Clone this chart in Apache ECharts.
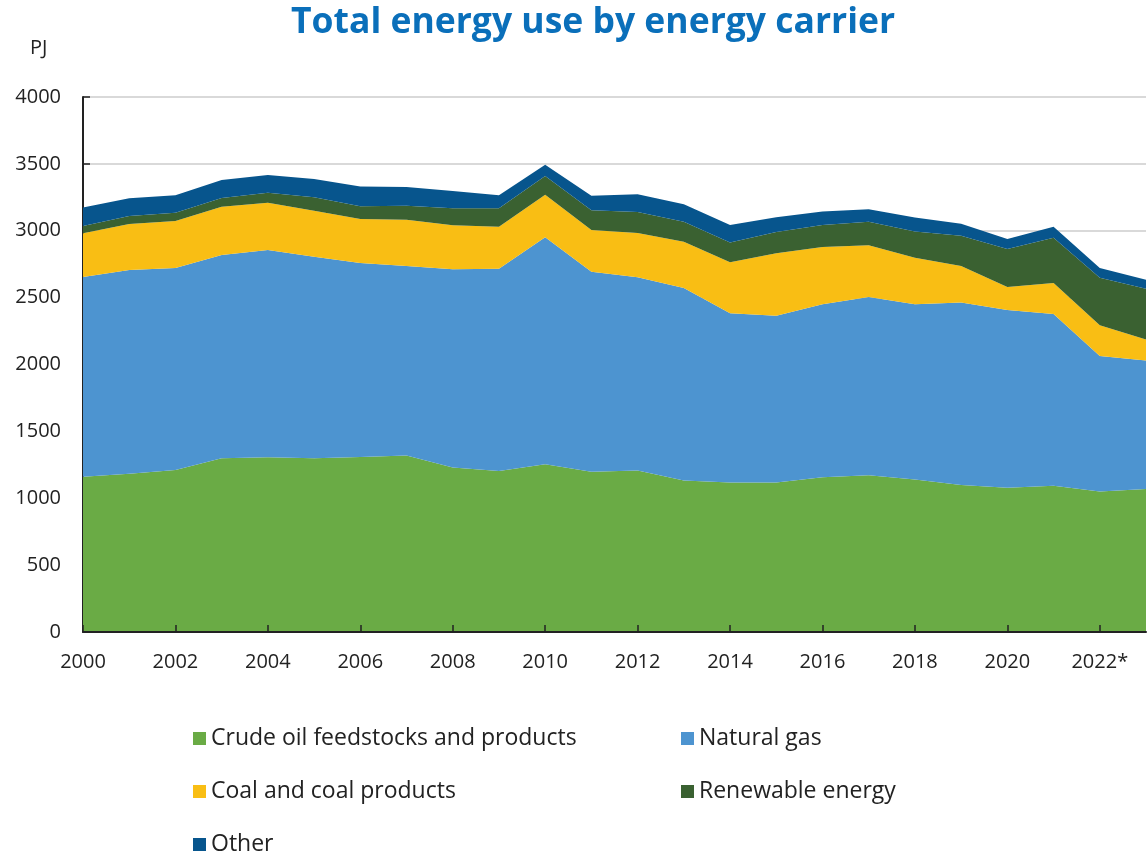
<!DOCTYPE html>
<html>
<head>
<meta charset="utf-8">
<script src="https://cdn.jsdelivr.net/npm/echarts@6/dist/echarts.min.js"></script>
<style>
html,body{margin:0;padding:0;background:#fff;}
#chart{width:1148px;height:855px;}
</style>
</head>
<body>
<div id="chart"></div>
<script>
const years = ['2000','2001','2002','2003','2004','2005','2006','2007','2008','2009','2010','2011','2012','2013','2014','2015','2016','2017','2018','2019','2020','2021','2022*','2023*'];
const crudeOil = [1160,1183,1211,1299,1307,1299,1309,1320,1229,1204,1255,1198,1207,1133,1118,1118,1157,1172,1141,1099,1078,1094,1050,1070];
const naturalGas = [1494,1524,1510,1520,1549,1507,1450,1416,1483,1512,1696,1496,1445,1439,1265,1247,1293,1333,1309,1365,1329,1283,1014,959];
const coal = [327,343,352,361,354,344,328,347,329,314,319,312,332,346,381,466,429,386,349,272,172,232,230,158];
const renewable = [54,60,62,65,75,100,97,104,127,138,139,147,156,150,149,160,164,177,196,226,285,338,355,380];
const other = [138,133,130,135,132,137,146,140,129,97,85,109,133,130,130,110,100,92,104,90,75,83,72,67];
const yTicks = [0,500,1000,1500,2000,2500,3000,3500,4000];

const seriesNames = ['Crude oil feedstocks and products','Natural gas','Coal and coal products','Renewable energy','Other'];
const seriesData = [crudeOil, naturalGas, coal, renewable, other];
const colors = ['#6aab45','#4d94d0','#f9be14','#3a6131','#07558d'];

const font = '"Open Sans", "Noto Sans", sans-serif';
const chart = echarts.init(document.getElementById('chart'));

const legendPos = [
  {left:188, top:722},
  {left:676, top:722},
  {left:188, top:775},
  {left:676, top:775},
  {left:188, top:828}
];

chart.setOption({
  animation:false,
  color: colors,
  title:{
    text:'Total energy use by energy carrier',
    left:286, top:0,
    textStyle:{fontFamily:font, fontSize:35.5, fontWeight:'bold', color:'#0a6fba'}
  },
  graphic:[{
    type:'text', left:30, top:38,
    style:{text:'PJ', fontFamily:font, fontSize:20, fill:'#222'}
  }],
  legend: seriesNames.map((n,i)=>({
    data:[n], left:legendPos[i].left, top:legendPos[i].top,
    icon:'rect', itemWidth:13, itemHeight:13, itemGap:6,
    textStyle:{fontFamily:font, fontSize:23, color:'#222'},
    selectedMode:false
  })),
  grid:{left:83, right:2, top:97, bottom:223, containLabel:false},
  xAxis:{
    type:'category', data:years, boundaryGap:false,
    axisLine:{lineStyle:{color:'#222', width:2}},
    axisTick:{inside:true, interval:1, length:7, lineStyle:{color:'#222', width:1.5}},
    axisLabel:{interval:1, fontFamily:font, fontSize:20, color:'#222', margin:20},
    z:10
  },
  yAxis:{
    type:'value', min:yTicks[0], max:yTicks[yTicks.length-1], interval:500,
    axisLine:{show:true, lineStyle:{color:'#222', width:2}},
    axisTick:{show:true, inside:true, length:7, lineStyle:{color:'#222', width:1.5}},
    axisLabel:{fontFamily:font, fontSize:20, color:'#222', margin:22, formatter:(v)=>String(v)},
    splitLine:{show:true, lineStyle:{color:'#d9d9d9', width:2}}
  },
  series: seriesNames.map((n,i)=>({
    name:n, type:'line', stack:'total', data:seriesData[i],
    symbol:'none', lineStyle:{width:0},
    areaStyle:{color:colors[i], opacity:1},
    itemStyle:{color:colors[i]}
  }))
});
</script>
</body>
</html>
